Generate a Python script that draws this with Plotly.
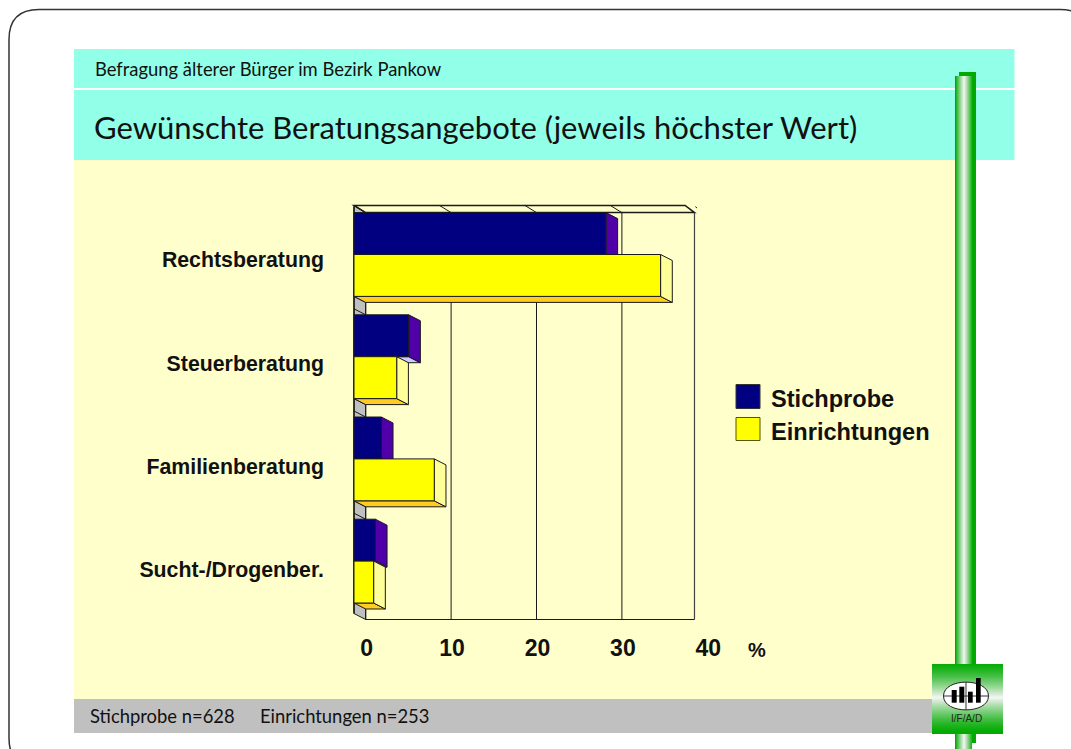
import plotly.graph_objects as go

# ---- data ----
categories = ["Rechtsberatung", "Steuerberatung", "Familienberatung", "Sucht-/Drogenber."]
stichprobe = [29.5, 6.4, 3.2, 2.5]
einrichtungen = [35.9, 5.0, 9.4, 2.3]
x_ticks = [0, 10, 20, 30, 40]
series_names = ["Stichprobe", "Einrichtungen"]

W, H = 1071, 749
# axis scales: pixel position of value 0 (back plane), pixels per unit
X0, SX = 365.7, 8.54
Y0, SY = 254.5, 102.2
L, R, T, B = 325, 720, 190, 632
DX = 11.7 / SX     # 3-D depth in axis units
DY = 6.0 / SY
XMAX_WALL = 38.5
HALF = 0.41
YTOP, YBOT = -HALF - 0.0, 3 + HALF
WALL_TOP = YTOP
WALL_BOT = 3.41 + DY + 10.5 / SY

NAVY, PURPLE, LAV = "#000080", "#4F00A8", "#CCCCFF"
YEL, YEL_S, YEL_B = "#FFFF00", "#FFFF99", "#FFCC22"
BG = "#FFFFCC"
TEAL = "#92FFE8"
GRAY = "#C0C0C0"
GREEN = (0, 170, 0)
LINE = "#1a1a1a"

shapes = []


def px_rect(x0, y0, x1, y1, fill, line=None):
    shapes.append(dict(type="rect", xref="paper", yref="paper", layer="below",
                       x0=x0 / W, x1=x1 / W, y0=1 - y0 / H, y1=1 - y1 / H,
                       fillcolor=fill, line=dict(width=0 if line is None else 1, color=line or fill)))


def px_path(d, fill=None, color="#333333", width=1.0, layer="below"):
    shapes.append(dict(type="path", xref="paper", yref="paper", layer=layer, path=d,
                       fillcolor=fill or "rgba(0,0,0,0)", line=dict(color=color, width=width)))


def P(x, y):
    return f"{x / W:.5f},{1 - y / H:.5f}"


def mix(t):
    c = [int(round(GREEN[i] + (245 - GREEN[i]) * t)) for i in range(3)]
    return f"rgb({c[0]},{c[1]},{c[2]})"


# page furniture
rr = 30
x1b, y1b = 1090, 768
xb, yb = 9, 9.5
px_path(f"M {P(xb, yb + rr)} Q {P(xb, yb)} {P(xb + rr, yb)} L {P(x1b - rr, yb)} Q {P(x1b, yb)} {P(x1b, yb + rr)} "
        f"L {P(x1b, y1b - rr)} Q {P(x1b, y1b)} {P(x1b - rr, y1b)} L {P(xb + rr, y1b)} Q {P(xb, y1b)} {P(xb, y1b - rr)} Z",
        color="#333333", width=1.5)
px_rect(74, 49, 1014.5, 88, TEAL)
px_rect(74, 90, 1014.5, 160, TEAL)
px_rect(74, 160, 955, 699, BG)
px_rect(74, 699, 932, 733, GRAY)
# green pillar with shaded cylinder
px_rect(959, 72, 976, 743, "rgb(0,170,0)")
for k in range(17):
    px = 955 + k
    t = k / 8.5 if k <= 8.5 else (17 - k) / 8.5
    px_rect(px, 76, px + 1, 749, mix(t ** 0.9))
# logo
for k in range(70):
    t = max(0, 1 - abs(k - 33) / 36)
    px_rect(932, 664 + k, 1003, 665 + k, mix(t ** 1.4))
ex, ey, erx, ery = 966, 696, 22.5, 14
px_path(f"M {P(ex - erx, ey)} C {P(ex - erx, ey - 18.5)} {P(ex + erx, ey - 18.5)} {P(ex + erx, ey)} "
        f"C {P(ex + erx, ey + 18.5)} {P(ex - erx, ey + 18.5)} {P(ex - erx, ey)} Z", fill="#FFFFFF", color="#222222", width=1)
px_path(f"M {P(ex - erx, ey)} L {P(ex + erx, ey)}", color="#333333", width=1)
px_path(f"M {P(ex, ey - 14)} L {P(ex, ey + 14)}", color="#333333", width=1)
for a, b, top in [(951.7, 956.7, 690), (959.3, 964.3, 686.7), (968, 972.7, 691.7), (976, 980.7, 678)]:
    px_rect(a, top, b, 702.7, "#000000")
# legend swatches
px_rect(736, 384.5, 760, 408.5, NAVY, "#333333")
px_rect(736, 417.5, 760, 440.5, YEL, "#555500")


def poly(pts, fill, color=LINE, width=1):
    d = "M " + " L ".join(f"{x:.4f},{y:.4f}" for x, y in pts) + " Z"
    shapes.append(dict(type="path", xref="x", yref="y", layer="below", path=d,
                       fillcolor=fill, line=dict(color=color, width=width)))


def seg(x0, y0, x1, y1, color=LINE, width=1):
    shapes.append(dict(type="line", xref="x", yref="y", layer="below",
                       x0=x0, y0=y0, x1=x1, y1=y1, line=dict(color=color, width=width)))


# left wall, ceiling, back wall and gridlines
poly([(-DX, WALL_TOP - DY - 1.0 / SY), (0, WALL_TOP), (0, WALL_BOT), (-DX, WALL_BOT - DY)], GRAY)
poly([(-DX, YTOP - DY - 1.2 / SY), (XMAX_WALL - 1.1, YTOP - DY - 1.2 / SY), (XMAX_WALL, YTOP), (0, YTOP)], BG, width=1.5)
for v in x_ticks[:4]:
    seg(v - DX, YTOP - DY - 1.2 / SY, v, YTOP)
    seg(v, YTOP, v, WALL_BOT)
seg(XMAX_WALL, YTOP, XMAX_WALL, WALL_BOT, "#444444", 1.2)
seg(0, WALL_BOT, XMAX_WALL, WALL_BOT)
seg(XMAX_WALL + 0.1, YTOP - DY, XMAX_WALL + 0.3, YTOP - DY + 1.5 / SY)
for i in range(3):
    ynext = i + 1 - HALF
    seg(-DX, ynext - DY, 0, ynext)
    seg(-DX, i + HALF, 0, i + HALF + DY)
seg(-DX, YTOP - DY, -DX, WALL_BOT - DY, LINE, 1.5)


def faces(vals, y_off, side, bottom):
    for i, v in enumerate(vals):
        top, bot = i + y_off, i + y_off + HALF
        xf = v - DX
        poly([(-DX, bot), (xf, bot), (xf + DX, bot + DY), (0, bot + DY)], bottom)
        poly([(xf, top), (xf + DX, top + DY), (xf + DX, bot + DY), (xf, bot)], side)


faces(stichprobe, -HALF, PURPLE, LAV)
faces(einrichtungen, 0, YEL_S, YEL_B)

fig = go.Figure()
ys = list(range(len(categories)))
fig.add_trace(go.Bar(name=series_names[0], orientation="h", y=ys, x=stichprobe, base=-DX,
                     marker=dict(color=NAVY, line=dict(color=LINE, width=1))))
fig.add_trace(go.Bar(name=series_names[1], orientation="h", y=ys, x=einrichtungen, base=-DX,
                     marker=dict(color=YEL, line=dict(color=LINE, width=1))))


def text_ann(x, y, s, size, family="Lato", weight=None, color="#111111", anchor="left"):
    if weight:
        s = f"<b>{s}</b>"
    return dict(xref="paper", yref="paper", x=x / W, y=1 - y / H, text=s, showarrow=False,
                xanchor=anchor, yanchor="middle", font=dict(family=family, size=size, color=color))


ARIAL = "Liberation Sans"
annotations = [
    text_ann(93, 69, "Befragung älterer Bürger im Bezirk Pankow", 18.4),
    text_ann(92, 127, "Gewünschte Beratungsangebote (jeweils höchster Wert)", 31),
    text_ann(88, 716, "Stichprobe n=628", 18.4),
    text_ann(258, 716, "Einrichtungen n=253", 18.4),
    text_ann(769, 399, series_names[0], 23.6, ARIAL, True),
    text_ann(769, 432, series_names[1], 23.6, ARIAL, True),
    text_ann(746, 650, "%", 20, ARIAL, True),
    text_ann(966.5, 718, "I/F/A/D", 10, ARIAL, None, "#222222", "center"),
]

fig.update_layout(
    width=W, height=H, autosize=False, margin=dict(l=0, r=0, t=0, b=0),
    paper_bgcolor="#FFFFFF", plot_bgcolor="rgba(0,0,0,0)", showlegend=False,
    barmode="group", bargap=0.18, bargroupgap=0,
    shapes=shapes, annotations=annotations,
    xaxis=dict(domain=[L / W, R / W], range=[(L - X0) / SX, (R - X0) / SX],
               tickvals=x_ticks, ticktext=[f"<b>{v}</b>" for v in x_ticks],
               ticks="", showgrid=False, zeroline=False, showline=False,
               tickfont=dict(family=ARIAL, size=23, color="#111111"), ticklabelstandoff=0, ticklabelshift=1),
    yaxis=dict(domain=[1 - B / H, 1 - T / H], range=[(B - Y0) / SY, (T - Y0) / SY],
               tickvals=[i * 1.011 + 0.054 for i in ys], ticktext=[f"<b>{c}</b>" for c in categories],
               ticks="", showgrid=False, zeroline=False, showline=False,
               tickfont=dict(family=ARIAL, size=21.3, color="#111111")),
)
fig.write_html("out.html", config=dict(displayModeBar=False),
               post_script="document.body.style.margin='0';document.body.style.overflow='hidden';")
